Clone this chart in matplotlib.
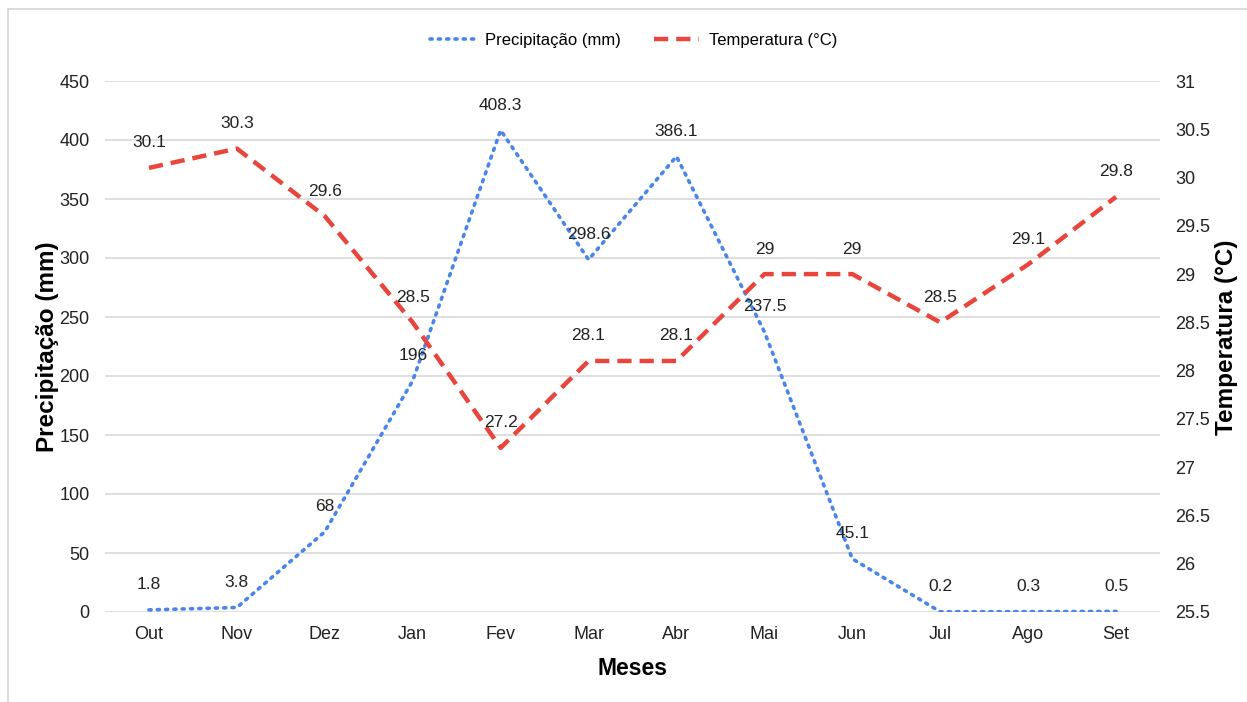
import matplotlib.pyplot as plt
from matplotlib.patches import Rectangle

plt.rcParams['font.family'] = ['Liberation Sans', 'DejaVu Sans']

meses = ['Out', 'Nov', 'Dez', 'Jan', 'Fev', 'Mar', 'Abr', 'Mai', 'Jun', 'Jul', 'Ago', 'Set']
precipitacao = [1.8, 3.8, 68, 196, 408.3, 298.6, 386.1, 237.5, 45.1, 0.2, 0.3, 0.5]
temperatura = [30.1, 30.3, 29.6, 28.5, 27.2, 28.1, 28.1, 29, 29, 28.5, 29.1, 29.8]

precip_ticks = [0, 50, 100, 150, 200, 250, 300, 350, 400, 450]
temp_ticks = [25.5, 26, 26.5, 27, 27.5, 28, 28.5, 29, 29.5, 30, 30.5, 31]
temp_labels = ['25.5', '26', '26.5', '27', '27.5', '28', '28.5', '29', '29.5', '30', '30.5', '31']

azul = '#4a86e8'
vermelho = '#e8453c'


def fmt(v):
    return f'{v:g}'


fig = plt.figure(figsize=(12.47, 7.02), dpi=100)
ax = fig.add_axes([105 / 1247, 1 - 612 / 702, 1055 / 1247, 531 / 702])
ax2 = ax.twinx()

x = list(range(len(meses)))

ax.plot(x, precipitacao, color=azul, lw=2.6, linestyle=(0, (0.6, 1.7)),
        dash_capstyle='round', label='Precipitação (mm)', zorder=3)
ax2.plot(x, temperatura, color=vermelho, lw=3.2, linestyle=(0, (3.2, 1.8)),
         label='Temperatura (°C)', zorder=3)

for xi, v in zip(x, precipitacao):
    ax.annotate(fmt(v), (xi, v), xytext=(0, 18), textcoords='offset points',
                ha='center', va='center', fontsize=12.5, color='#222222')
for xi, v in zip(x, temperatura):
    ax2.annotate(fmt(v), (xi, v), xytext=(0, 18), textcoords='offset points',
                 ha='center', va='center', fontsize=12.5, color='#222222')

ax.set_xlim(-0.5, len(meses) - 0.5)
ax.set_ylim(0, 450)
ax2.set_ylim(25.5, 31)
ax.set_yticks(precip_ticks)
ax2.set_yticks(temp_ticks)
ax2.set_yticklabels(temp_labels)
ax.set_xticks(x)
ax.set_xticklabels(meses)

ax.grid(axis='y', color='#d9d9d9', lw=1.2)
ax.set_axisbelow(True)
for a in (ax, ax2):
    for s in a.spines.values():
        s.set_visible(False)
    a.tick_params(length=0, labelsize=13, colors='#222222')
ax.tick_params(axis='y', pad=11)
ax.tick_params(axis='x', pad=10)
ax2.tick_params(axis='y', pad=11)

ax.set_ylabel('Precipitação (mm)', fontsize=17.5, fontweight='bold')
ax2.set_ylabel('Temperatura (°C)', fontsize=17.5, fontweight='bold', rotation=90)
ax.yaxis.set_label_coords(-46 / 1055, 0.5)
ax2.yaxis.set_label_coords(1110 / 1055, 0.518)
ax.set_xlabel('Meses', fontsize=16.5, fontweight='bold', labelpad=10)

h1, l1 = ax.get_legend_handles_labels()
h2, l2 = ax2.get_legend_handles_labels()
fig.legend(h1 + h2, l1 + l2, loc='center', bbox_to_anchor=(634 / 1247, 1 - 40 / 702),
           ncol=2, frameon=False, fontsize=12, handlelength=2.7,
           handletextpad=0.6, columnspacing=2.0)

fig.patches.append(Rectangle((8 / 1247, -0.1), 2, (702 - 9) / 702 + 0.1,
                             transform=fig.transFigure, fill=False,
                             edgecolor='#d4d4d4', lw=1.2))

fig.savefig('out.png', dpi=100)
